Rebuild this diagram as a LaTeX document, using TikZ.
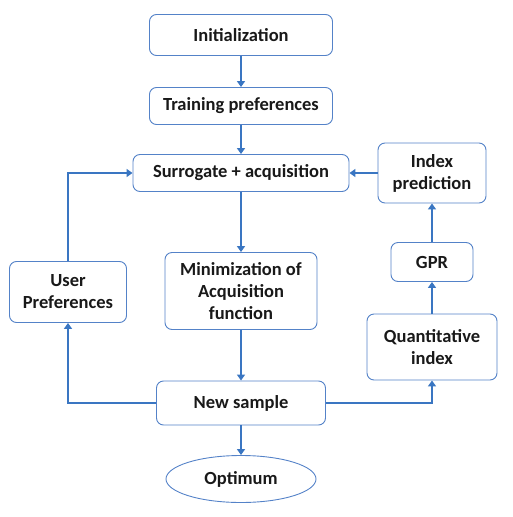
\documentclass[tikz,border=0pt]{standalone}
\usepackage{fontspec}
\setmainfont{Carlito}
\usetikzlibrary{positioning,calc,arrows.meta,shapes.geometric}
\definecolor{lineblue}{RGB}{58,118,194}
\definecolor{boxblue}{RGB}{84,130,200}

\begin{document}
\begin{tikzpicture}[x=1pt,y=-1pt,
				every node/.style={font=\bfseries\fontsize{18.5}{22}\selectfont,align=center,text=black!90},
				block/.style={draw=boxblue,line width=0.9pt,rounded corners=7pt,fill=white,inner sep=0pt},
				flow/.style={draw=lineblue,line width=2.8pt,-{Triangle[length=6pt,width=8pt]}}]
				\useasboundingbox (0,0) rectangle (512,517);
				\node[block,minimum width=183pt,minimum height=41pt] (init)  at (241,35)  {Initialization};
				\node[block,minimum width=183pt,minimum height=37pt] (train) at (241,106) {Training preferences};
				\node[block,minimum width=216pt,minimum height=37pt] (surr)  at (241,173) {Surrogate + acquisition};
				\node[block,minimum width=152pt,minimum height=77pt] (mini)  at (241,291) {Minimization of\\Acquisition\\function};
				\node[block,minimum width=169pt,minimum height=44pt] (new)   at (241,403) {New sample};
				\node[draw=boxblue,line width=0.9pt,ellipse,inner sep=0pt,minimum width=150pt,minimum height=47pt] (opt) at (241,479) {Optimum};
				\node[block,minimum width=117pt,minimum height=61pt] (user)  at (68,292)  {User\\Preferences};
				\node[block,minimum width=108pt,minimum height=60pt] (idx)   at (432,173) {Index\\prediction};
				\node[block,minimum width=82pt,minimum height=39pt]  (gpr)   at (432,262) {GPR};
				\node[block,minimum width=130pt,minimum height=66pt] (quant) at (432,347) {Quantitative\\index};

				\draw[flow] (init)  -- (train);
				\draw[flow] (train) -- (surr);
				\draw[flow] (surr)  -- (mini);
				\draw[flow] (mini)  -- (new);
				\draw[flow] (new)   -- (opt);
				\draw[flow] (new)   -| (user);
				\draw[flow] (user)  |- (surr);
				\draw[flow] (new)   -| (quant);
				\draw[flow] (quant) -- (gpr);
				\draw[flow] (gpr)   -- (idx);
				\draw[flow] (idx)   -- (surr);
\end{tikzpicture}
\end{document}
